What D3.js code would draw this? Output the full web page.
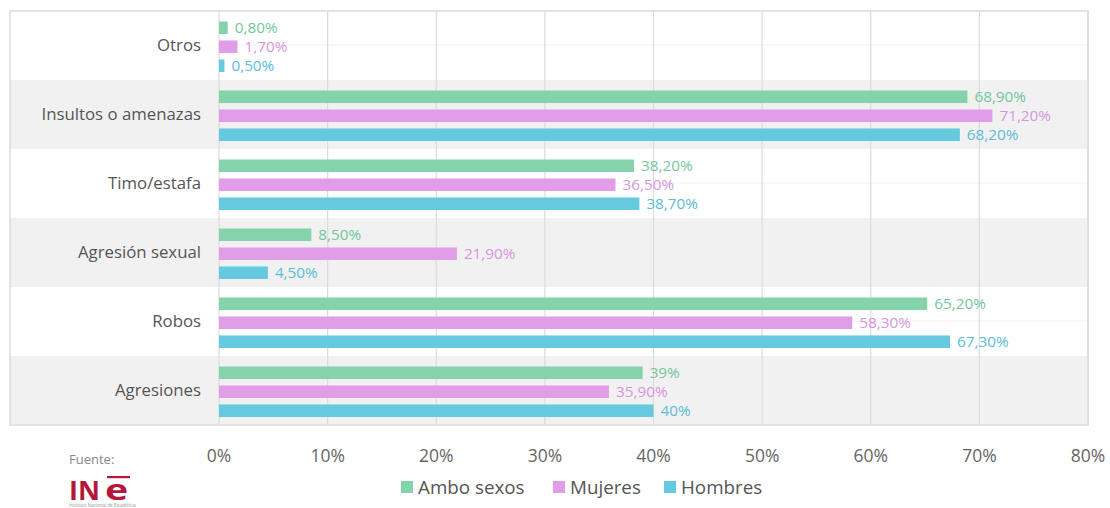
<!DOCTYPE html>
<html>
<head>
<meta charset="utf-8">
<script src="https://cdn.jsdelivr.net/npm/d3@7"></script>
<style>
  body { margin: 0; background: #fff; }
  text { font-family: "Open Sans", "Noto Sans", sans-serif; }
</style>
</head>
<body>
<script>
// Categories (top to bottom) and series values in %
const categories = ['Otros', 'Insultos o amenazas', 'Timo/estafa', 'Agresión sexual', 'Robos', 'Agresiones'];
const ambos = [0.8, 68.9, 38.2, 8.5, 65.2, 39];
const mujeres = [1.7, 71.2, 36.5, 21.9, 58.3, 35.9];
const hombres = [0.5, 68.2, 38.7, 4.5, 67.3, 40];
const seriesNames = ['Ambo sexos', 'Mujeres', 'Hombres'];
const xTicks = [0, 10, 20, 30, 40, 50, 60, 70, 80];

const colors = ['#84d3aa', '#e29de8', '#65c9df'];
const labelColors = ['#74c79c', '#d895df', '#5dbcd6'];

const width = 1110, height = 508;
const plotLeft = 219, plotRight = 1088, plotTop = 11, plotBottom = 425;

const svg = d3.select('body').append('svg')
  .attr('width', width)
  .attr('height', height);

const x = d3.scaleLinear().domain([0, 80]).range([plotLeft, plotRight]);
const y = d3.scaleBand().domain(categories).range([plotTop, plotBottom]);
const ySub = d3.scaleBand().domain(seriesNames)
  .range([10.5, 61]).paddingInner(0.34);

// Alternating bands
svg.append('g').selectAll('rect')
  .data(categories)
  .join('rect')
  .attr('x', 10).attr('y', d => y(d))
  .attr('width', plotRight - 10).attr('height', y.bandwidth())
  .attr('fill', (d, i) => i % 2 === 1 ? '#f1f1f1' : '#fff');

// Faint centre line in each band
svg.append('g').selectAll('line')
  .data(categories)
  .join('line')
  .attr('x1', plotLeft).attr('x2', plotRight)
  .attr('y1', d => y(d) + y.bandwidth() / 2 - 0.5)
  .attr('y2', d => y(d) + y.bandwidth() / 2 - 0.5)
  .attr('stroke', '#f1f1f1');

// Vertical grid lines
svg.append('g').selectAll('line')
  .data(xTicks)
  .join('line')
  .attr('x1', d => x(d)).attr('x2', d => x(d))
  .attr('y1', plotTop).attr('y2', plotBottom)
  .attr('stroke', '#dcdcdc').attr('stroke-width', 1.2);

// Outer frame
svg.append('rect')
  .attr('x', 10).attr('y', plotTop)
  .attr('width', plotRight - 10).attr('height', plotBottom - plotTop)
  .attr('fill', 'none').attr('stroke', '#dcdcdc').attr('stroke-width', 1.5);

// Category labels
svg.append('g').selectAll('text')
  .data(categories)
  .join('text')
  .attr('x', 201)
  .attr('y', d => y(d) + y.bandwidth() / 2)
  .attr('dy', '0.35em')
  .attr('text-anchor', 'end')
  .attr('font-size', 16.8)
  .attr('fill', '#555')
  .text(d => d);

// Bars
const fmt = v => Number.isInteger(v) ? v + '%' : v.toFixed(2).replace('.', ',') + '%';
const seriesValues = [ambos, mujeres, hombres];
seriesValues.forEach((vals, s) => {
  const g = svg.append('g');
  const rows = categories.map((c, i) => ({ cat: c, v: vals[i] }));
  g.selectAll('rect')
    .data(rows)
    .join('rect')
    .attr('x', x(0))
    .attr('y', d => y(d.cat) + ySub(seriesNames[s]))
    .attr('width', d => x(d.v) - x(0))
    .attr('height', ySub.bandwidth())
    .attr('fill', colors[s]);
  g.selectAll('text')
    .data(rows)
    .join('text')
    .attr('x', d => x(d.v) + 7)
    .attr('y', d => y(d.cat) + ySub(seriesNames[s]) + ySub.bandwidth() / 2)
    .attr('dy', '0.36em')
    .attr('font-size', 15.3)
    .attr('fill', labelColors[s])
    .text(d => fmt(d.v));
});

// X axis tick labels
svg.append('g').selectAll('text')
  .data(xTicks)
  .join('text')
  .attr('x', d => x(d))
  .attr('y', 462)
  .attr('text-anchor', 'middle')
  .attr('font-size', 17.5)
  .attr('fill', '#666')
  .text(d => d + '%');

// Legend
const legendX = [401, 553, 664];
const legend = svg.append('g');
seriesNames.forEach((name, i) => {
  legend.append('rect')
    .attr('x', legendX[i]).attr('y', 481)
    .attr('width', 12).attr('height', 12)
    .attr('fill', colors[i]);
  legend.append('text')
    .attr('x', legendX[i] + 17).attr('y', 494)
    .attr('font-size', 18.8)
    .attr('fill', '#555')
    .text(name);
});

// Source
svg.append('text')
  .attr('x', 69).attr('y', 464)
  .attr('font-size', 13)
  .attr('fill', '#888')
  .text('Fuente:');
const logo = svg.append('g').attr('fill', '#b3173b')
  .attr('font-family', 'Liberation Sans, Arial, sans-serif')
  .attr('font-weight', 'bold');
logo.append('text')
  .attr('x', 69).attr('y', 500)
  .attr('font-size', 27)
  .text('IN');
logo.append('text')
  .attr('transform', 'translate(105,500) scale(1.35,1)')
  .attr('font-size', 29)
  .text('e');
logo.append('rect')
  .attr('x', 107).attr('y', 476)
  .attr('width', 23).attr('height', 2.2);
svg.append('text')
  .attr('x', 69).attr('y', 507)
  .attr('font-size', 4.5)
  .attr('fill', '#999')
  .text('Instituto Nacional de Estadística');
</script>
</body>
</html>
